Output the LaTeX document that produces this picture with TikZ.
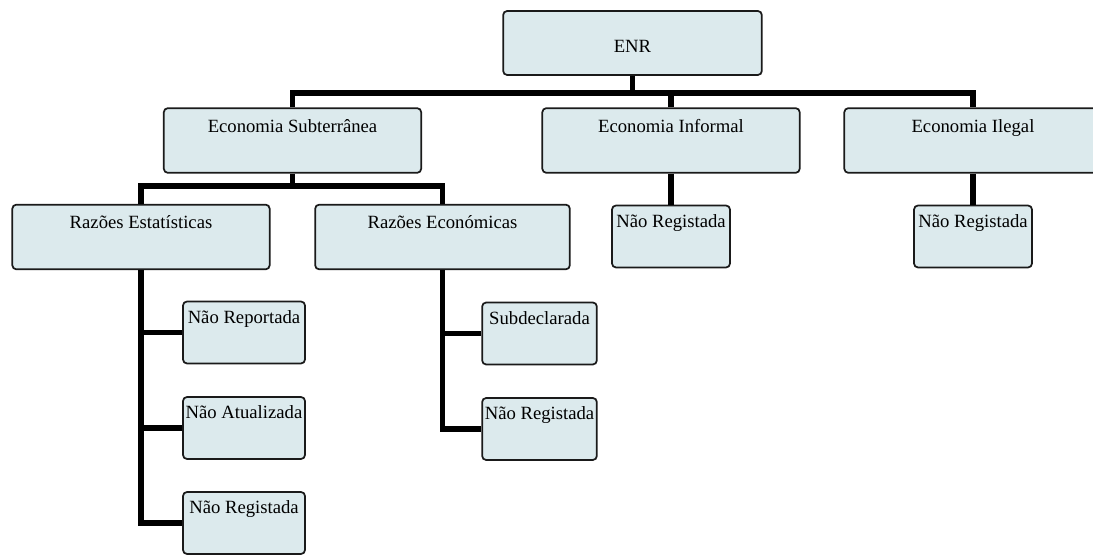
\documentclass[tikz,border=0pt]{standalone}
\usepackage{fontspec}
\setmainfont{Liberation Serif}
\definecolor{boxfill}{HTML}{DCEAED}
\definecolor{boxline}{HTML}{1A1A1A}
\begin{document}
\begin{tikzpicture}
    [
    x = 0.75pt, y = -0.75pt,
    link/.style = {line width = 3.8pt, black},
    ]
    \tikzstyle{box node}=[rectangle,draw=boxline,fill=boxfill,line width=1.3pt,rounded corners=3pt,inner sep=0pt,font=\fontsize{14}{16}\selectfont]
    \tikzstyle{root node}=[box node,minimum width=194pt,text height=31.5pt,text depth=16.5pt]
    \tikzstyle{wide node}=[box node,minimum width=193pt,text height=18pt,text depth=30.5pt]
    \tikzstyle{leaf node}=[box node,text height=16.5pt,text depth=30pt]

    \useasboundingbox (0,0) rectangle (1093,555);
    \clip (0,0) rectangle (1093,555);

    \node[root node] (enr) at (632.5,43) {ENR};
    \node[wide node] (sub) at (292.5,140.5) {Economia Subterrânea};
    \node[wide node] (inf) at (671,140.5) {Economia Informal};
    \node[wide node] (ile) at (973,140.5) {Economia Ilegal};
    \node[wide node] (est) at (141,237) {Razões Estatísticas};
    \node[wide node,minimum width=191pt] (eco) at (442.5,237) {Razões Económicas};
    \node[leaf node,minimum width=88.5pt] (nri) at (671,236.5) {Não Registada};
    \node[leaf node,minimum width=88.5pt] (nrl) at (973,236.5) {Não Registada};
    \node[leaf node,minimum width=91.5pt] (nrep) at (244,332.5) {Não Reportada};
    \node[leaf node,minimum width=91.5pt] (natu) at (244,428) {Não Atualizada};
    \node[leaf node,minimum width=91.5pt] (nreg) at (244,523) {Não Registada};
    \node[leaf node,minimum width=86pt] (subd) at (539.5,333.5) {Subdeclarada};
    \node[leaf node,minimum width=86pt] (nrec) at (539.5,429) {Não Registada};

    \coordinate (bus1) at (632.5,93);
    \coordinate (bus2) at (292.5,186);

    \draw[link] (enr.south) -- (bus1);
    \draw[link] (sub.north) |- (bus1) -| (ile.north);
    \draw[link] (inf.north) -- (inf.north |- bus1);
    \draw[link] (sub.south) -- (bus2);
    \draw[link] (est.north) |- (bus2) -| (eco.north);
    \draw[link] (inf.south) -- (nri.north);
    \draw[link] (ile.south) -- (nrl.north);
    \draw[link] (est.south) |- (nreg.west);
    \draw[link] (nrep.west) -- (nrep.west -| est.south);
    \draw[link] (natu.west) -- (natu.west -| est.south);
    \draw[link] (eco.south) |- (nrec.west);
    \draw[link] (subd.west) -- (subd.west -| eco.south);
\end{tikzpicture}
\end{document}
